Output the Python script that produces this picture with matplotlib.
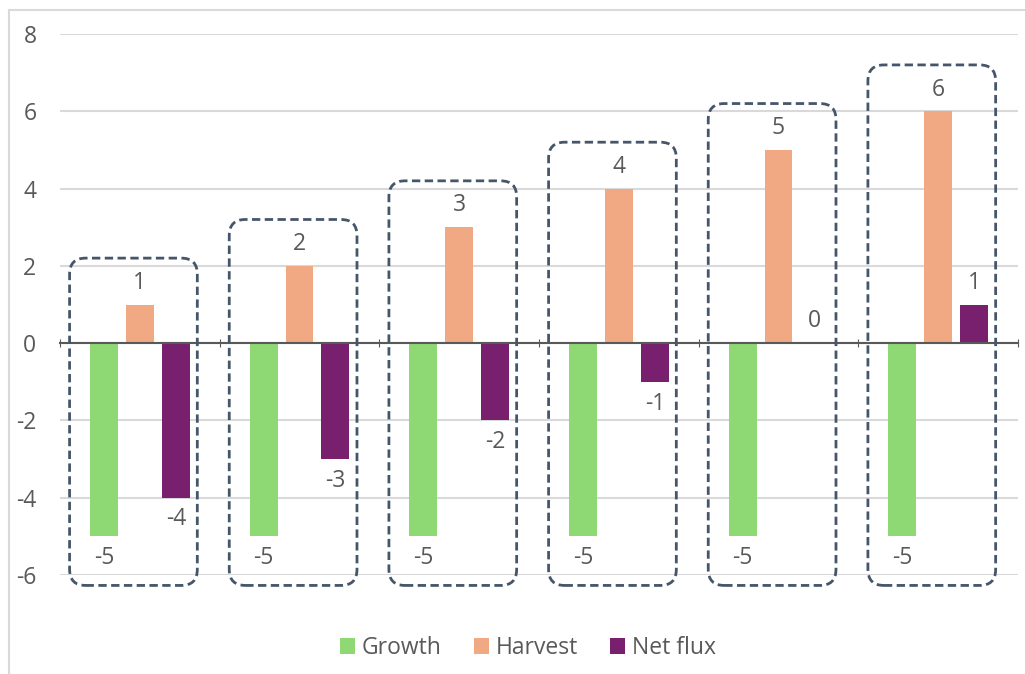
import matplotlib.pyplot as plt
import numpy as np
from matplotlib.patches import FancyBboxPatch, Rectangle

plt.rcParams['font.family'] = ['Open Sans', 'DejaVu Sans']
plt.rcParams['axes.unicode_minus'] = False

# data
groups = ['1', '2', '3', '4', '5', '6']
growth = [-5, -5, -5, -5, -5, -5]
harvest = [1, 2, 3, 4, 5, 6]
net_flux = [-4, -3, -2, -1, 0, 1]
series_names = ['Growth', 'Harvest', 'Net flux']
colors = ['#8ED973', '#F1A983', '#78206E']

txt = '#595959'
fs = 16.5

fig = plt.figure(figsize=(10.25, 6.74), dpi=100)
ax = fig.add_axes([60/1025, 1-575/674, (1018-60)/1025, (575-34)/674])

# outer chart frame (runs off the right and bottom of the image)
fig.patches.append(Rectangle((9/1025, -0.1), 1.1, 1.1-10/674, transform=fig.transFigure,
                             fill=False, ec='#d9d9d9', lw=1.5))

x = np.arange(len(groups))
w = 0.175
off = 0.225
for k, vals in enumerate([growth, harvest, net_flux]):
    b = ax.bar(x + (k-1)*off, vals, w, color=colors[k], label=series_names[k], zorder=3)
    ax.bar_label(b, padding=7, fontsize=fs, color=txt)

ax.set_xlim(-0.5, 5.5)
ax.set_ylim(-6, 8)
ax.set_yticks(range(-6, 9, 2))
ax.yaxis.grid(True, color='#d9d9d9', lw=1.5)
ax.set_axisbelow(True)
ax.tick_params(axis='y', length=0, pad=17, labelsize=fs, labelcolor=txt)
for s in ['top', 'right', 'left']:
    ax.spines[s].set_visible(False)
ax.spines['bottom'].set_position(('data', 0))
ax.spines['bottom'].set_color(txt)
ax.spines['bottom'].set_linewidth(1.5)
ax.spines['bottom'].set_zorder(4)
ax.set_xticks(np.arange(-0.5, 6, 1))
ax.tick_params(axis='x', direction='inout', length=6, color=txt, labelbottom=False)

# dashed rounded boxes around each group
fig.canvas.draw()
bb = ax.get_window_extent()
px_x = bb.width / 6.0
px_y = bb.height / 14.0
for i in range(len(groups)):
    left = i - 0.44
    right = i + 0.36
    top = harvest[i] + 1.2
    bottom = -6.27
    box = FancyBboxPatch((left, bottom), right - left, top - bottom,
                         boxstyle='round,pad=0,rounding_size=%f' % (16/px_x),
                         mutation_aspect=px_x/px_y,
                         fill=False, ec='#46566A', lw=2, ls=(0, (3, 1.6)),
                         clip_on=False, zorder=5)
    ax.add_patch(box)

ax.legend(loc='center', bbox_to_anchor=(528/1025, 1-648/674), bbox_transform=fig.transFigure,
          ncol=3, frameon=False, fontsize=fs, labelcolor=txt, handlelength=0.65, handleheight=0.65,
          handletextpad=0.3, columnspacing=1.4)

fig.savefig('out.png', dpi=100)
